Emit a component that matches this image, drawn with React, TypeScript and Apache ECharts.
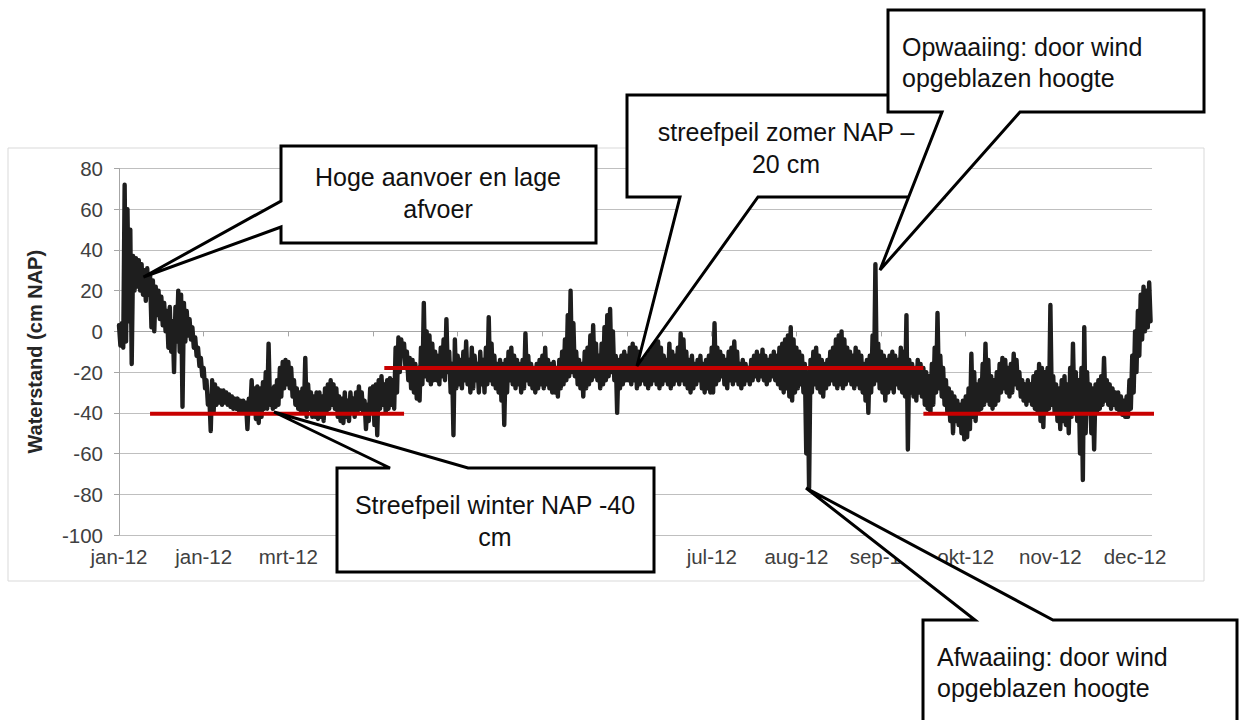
import React, { useEffect, useRef } from "react";
import * as echarts from "echarts";

// ---- data ----
// x-axis: day of 2012 (0 = 1 jan), ticks every 30 days as Excel did
const tickDays = [0, 30, 60, 90, 120, 150, 180, 210, 240, 270, 300, 330, 360];
const monthLabels = ["jan-12", "jan-12", "mrt-12", "mrt-12", "apr-12", "mei-12", "jun-12", "jul-12", "aug-12", "sep-12", "okt-12", "nov-12", "dec-12"];

// daily maximum water level (cm NAP)
const dayHigh = [
  3, 4, 72, 60, 50, 37, 36, 35, 33, 30,
  31, 28, 25, 22, 20, 17, 14, 10, 12, 5,
  12, 20, 18, 14, 10, 6, 2, -3, -8, -13,
  -18, -24, -32, -24, -26, -28, -29, -29, -30, -31,
  -32, -33, -33, -34, -34, -35, -33, -24, -28, -27,
  -28, -25, -20, -6, -28, -27, -24, -18, -15, -14,
  -15, -18, -24, -28, -30, -28, -13, -26, -30, -32,
  -30, -30, -32, -28, -26, -24, -26, -28, -32, -33,
  -30, -34, -30, -33, -30, -27, -30, -34, -36, -28,
  -27, -26, -24, -22, -26, -24, -23, -24, -8, -3,
  -4, -6, -10, -13, -14, -16, -18, -8, 14, 0,
  -2, -6, -10, -12, -8, -4, 6, -10, -16, -4,
  -12, -14, -10, -5, -14, -8, -12, -16, -10, -14,
  -8, 7, -6, -12, -16, -14, -16, -14, -10, -8,
  -12, -14, -16, -14, -1, -12, -16, -18, -16, -14,
  -12, -8, -14, -16, -15, -18, -14, -10, -4, 8,
  20, 4, -10, -14, -16, -10, -8, -2, 3, -6,
  -12, -6, 2, 8, 11, 0, -12, -14, -12, -10,
  -12, -8, -6, -8, -10, -12, -14, -12, -10, -8,
  -6, -5, -8, -12, -14, -6, -10, -12, -8, -1,
  -4, -10, -14, -12, -16, -14, -12, -16, -14, -12,
  -8, 4, -8, -10, -12, -14, -10, -8, -5, -10,
  -16, -14, -16, -18, -14, -12, -10, -12, -9, -12,
  -14, -12, -10, -12, -8, -6, -4, -2, 2, -4,
  -8, -10, -12, -16, -20, -14, -10, -8, -12, -14,
  -16, -14, -10, -8, -4, -2, 0, -4, -8, -10,
  -12, -8, -10, -12, -16, -14, -12, -2, 33, -6,
  -10, -12, -14, -12, -10, -12, -14, -8, -10, 8,
  -14, -16, -18, -14, -16, -18, -20, -22, -16, -8,
  9, -12, -18, -24, -28, -30, -32, -34, -36, -34,
  -32, -28, -11, -20, -26, -24, -16, -6, -14, -22,
  -24, -20, -16, -13, -14, -18, -16, -11, -14, -20,
  -24, -26, -24, -26, -22, -20, -16, -18, -20, -18,
  13, -22, -26, -28, -24, -22, -26, -18, -6, -20,
  -24, -18, 2, -20, -26, -28, -26, -24, -22, -13,
  -24, -26, -28, -30, -30, -32, -34, -32, -24, -12,
  0, 10, 18, 22, 20, 24,
];

// daily minimum water level (cm NAP)
const dayLow = [
  -7, -8, -5, 5, -16, 20, 22, 20, 18, 15,
  18, 2, 0, 8, 6, 3, 0, -8, -10, -20,
  -5, -10, -37, -5, -2, -4, -8, -12, -17, -22,
  -28, -36, -49, -40, -36, -35, -36, -35, -36, -37,
  -38, -38, -39, -39, -40, -48, -40, -40, -43, -45,
  -42, -38, -38, -36, -38, -37, -36, -32, -28, -26,
  -28, -32, -36, -38, -40, -40, -42, -38, -42, -42,
  -43, -42, -44, -40, -38, -36, -38, -42, -44, -45,
  -42, -44, -40, -42, -40, -38, -40, -48, -44, -40,
  -46, -51, -38, -36, -40, -38, -36, -38, -30, -20,
  -12, -18, -24, -28, -30, -33, -34, -26, -22, -24,
  -26, -24, -24, -26, -22, -24, -20, -30, -51, -28,
  -26, -28, -24, -26, -30, -28, -24, -30, -26, -30,
  -26, -24, -26, -28, -30, -34, -46, -30, -24, -26,
  -28, -26, -30, -28, -24, -26, -28, -30, -28, -26,
  -28, -26, -28, -30, -30, -32, -28, -26, -24, -22,
  -20, -22, -26, -28, -32, -28, -26, -24, -22, -24,
  -28, -26, -24, -22, -20, -24, -40, -28, -26, -24,
  -24, -26, -24, -28, -26, -24, -26, -28, -26, -24,
  -26, -28, -26, -24, -26, -28, -26, -24, -26, -24,
  -26, -28, -30, -28, -26, -24, -28, -30, -28, -30,
  -30, -26, -24, -22, -26, -28, -24, -26, -24, -26,
  -28, -26, -24, -26, -24, -22, -24, -22, -24, -26,
  -24, -22, -24, -26, -28, -30, -28, -32, -34, -30,
  -28, -26, -30, -60, -77, -30, -26, -28, -30, -32,
  -28, -26, -24, -26, -28, -26, -28, -26, -24, -26,
  -28, -26, -28, -30, -34, -40, -30, -26, -24, -28,
  -30, -34, -30, -28, -30, -26, -28, -30, -32, -58,
  -30, -32, -34, -30, -32, -36, -38, -40, -36, -30,
  -28, -32, -36, -40, -44, -50, -44, -46, -50, -53,
  -52, -48, -42, -44, -40, -38, -36, -34, -36, -38,
  -36, -34, -30, -28, -30, -32, -30, -26, -28, -32,
  -34, -36, -34, -36, -38, -40, -44, -47, -40, -38,
  -36, -40, -44, -48, -44, -46, -50, -42, -40, -44,
  -60, -73, -50, -40, -50, -58, -40, -38, -36, -34,
  -36, -38, -36, -38, -40, -41, -42, -42, -38, -30,
  -20, -12, -4, 0, 2, 5,
];

// target levels (streefpeil): start day, end day, level (cm NAP)
const targetStart = [11, 94, 285];
const targetEnd = [101, 285, 397];
const targetLevel = [-40.5, -18, -40.5];

const FONT = "'Liberation Sans', Arial, sans-serif";

function callout(points: number[][], z: number) {
  return {
    type: "polygon",
    z,
    shape: { points },
    style: { fill: "#ffffff", stroke: "#000000", lineWidth: 3, lineJoin: "miter" },
  };
}

function calloutText(text: string, x: number, y: number, align: string, z: number) {
  return {
    type: "text",
    z,
    style: {
      text,
      x,
      y,
      align,
      verticalAlign: "middle",
      fontSize: 25,
      lineHeight: 31.5,
      fontFamily: FONT,
      fill: "#111111",
    },
  };
}

export default function App() {
  const ref = useRef<HTMLDivElement>(null);

  useEffect(() => {
    if (!ref.current) return;
    const chart = echarts.init(ref.current, undefined, { renderer: "svg" });

    const bandData: number[][] = [];
    dayHigh.forEach((h, d) => {
      bandData.push([d, h]);
      bandData.push([d + 0.5, dayLow[d]]);
    });

    const targetSeries = targetLevel.map((lvl, i) => ({
      type: "line",
      data: [
        [targetStart[i], lvl],
        [targetEnd[i], lvl],
      ],
      showSymbol: false,
      clip: false,
      z: 4,
      lineStyle: { color: "#c80000", width: 4 },
      silent: true,
    }));

    const option: any = {
      animation: false,
      backgroundColor: "#ffffff",
      grid: { left: 119, top: 168.5, right: 87, bottom: 185 },
      xAxis: {
        type: "value",
        min: 0,
        max: 366,
        interval: 30,
        splitLine: { show: false },
        axisLine: { show: true, lineStyle: { color: "#a6a6a6", width: 1 } },
        axisTick: { show: true, customValues: tickDays, length: 5, lineStyle: { color: "#a6a6a6" } },
        axisLabel: {
          customValues: tickDays,
          formatter: (v: number) => {
            const i = tickDays.indexOf(v);
            return i >= 0 ? monthLabels[i] : "";
          },
          fontSize: 20.5,
          color: "#404040",
          fontFamily: FONT,
          margin: 11,
        },
      },
      yAxis: {
        type: "value",
        min: -100,
        max: 80,
        interval: 20,
        name: "Waterstand (cm NAP)",
        nameLocation: "middle",
        nameGap: 74,
        nameRotate: 90,
        nameTextStyle: { fontWeight: "bold", fontSize: 20, color: "#262626", fontFamily: FONT },
        axisLine: { show: true, lineStyle: { color: "#a6a6a6", width: 1 } },
        axisTick: { show: true, length: 5, lineStyle: { color: "#a6a6a6" } },
        axisLabel: { fontSize: 20.5, color: "#404040", fontFamily: FONT, margin: 16 },
        splitLine: { show: true, lineStyle: { color: "#bfbfbf", width: 1 } },
      },
      series: [
        {
          type: "line",
          data: bandData,
          showSymbol: false,
          z: 3,
          lineStyle: { color: "#1e1e1e", width: 4.4, join: "round", cap: "round" },
          silent: true,
        },
        ...targetSeries,
      ],
      graphic: [
        {
          type: "rect",
          z: 90,
          shape: { x: 8, y: 148, width: 1196, height: 433 },
          style: { fill: "none", stroke: "#d9d9d9", lineWidth: 1 },
          silent: true,
        },
        callout([[281, 146], [596, 146], [596, 243], [281, 243], [281, 227], [143.5, 277], [281, 201]], 100),
        calloutText("Hoge aanvoer en lage\nafvoer", 438, 193, "center", 101),
        callout([[337, 468], [390, 468], [274, 412], [468, 468], [654, 468], [654, 572], [337, 572]], 102),
        calloutText("Streefpeil winter NAP -40\ncm", 495, 521, "center", 103),
        callout([[627, 95], [944, 95], [944, 197], [758, 197], [637, 366], [680, 197], [627, 197]], 104),
        calloutText("streefpeil zomer NAP \u2013\n20 cm", 786, 148, "center", 105),
        callout([[888, 10], [1204, 10], [1204, 112], [1020, 112], [880, 270], [942, 112], [888, 112]], 106),
        calloutText("Opwaaiing: door wind\nopgeblazen hoogte", 902, 62.5, "left", 107),
        callout([[923, 620], [975, 620], [806, 488], [1053, 620], [1237, 620], [1237, 735], [923, 735]], 108),
        calloutText("Afwaaiing: door wind\nopgeblazen hoogte", 937, 672.5, "left", 109),
      ],
    };

    chart.setOption(option);
    return () => chart.dispose();
  }, []);

  return (
    <div
      ref={ref}
      style={{ position: "fixed", left: 0, top: 0, width: 1239, height: 720, background: "#fff" }}
    />
  );
}
